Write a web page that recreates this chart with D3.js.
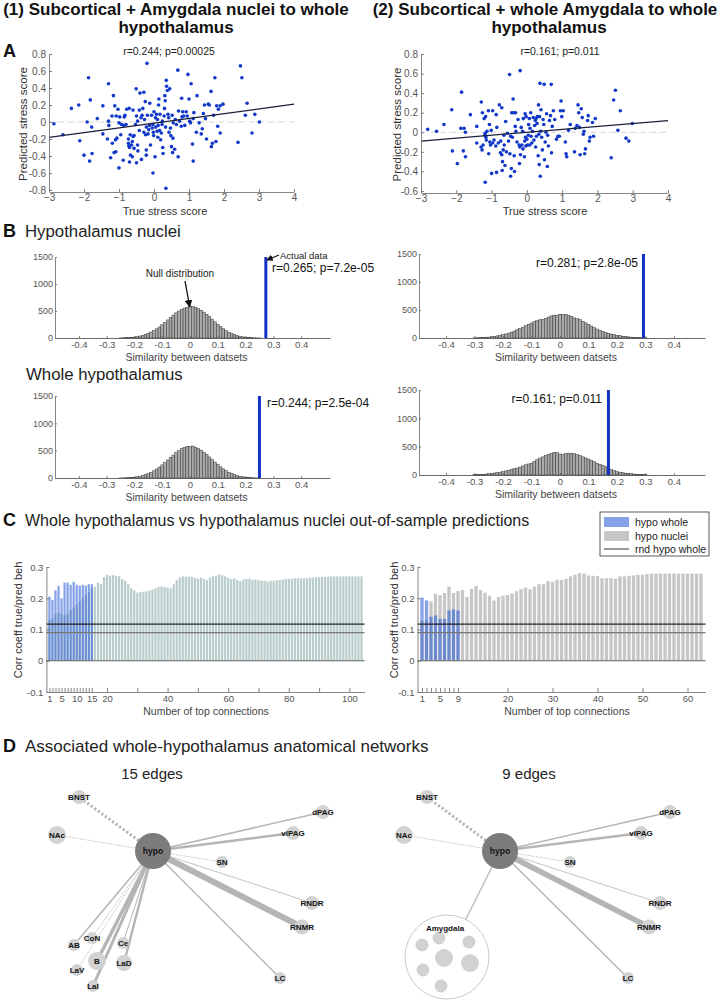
<!DOCTYPE html>
<html><head><meta charset="utf-8">
<script src="https://cdn.jsdelivr.net/npm/d3@7"></script>
<style>body{margin:0;background:#fff}</style>
</head><body><svg id="c" width="725" height="1000"></svg>
<script>
// ---------------- DATA ----------------
const scatterA1 = [[-2.86,-0.02],[-2.6,-0.15],[-2.36,0.16],[-2.15,0.2],[-2.12,-0.22],[-2.0,-0.39],[-1.91,0.0],[-1.87,0.52],[-1.82,0.26],[-1.84,-0.46],[-1.78,-0.06],[-1.77,-0.37],[-1.62,0.04],[-1.46,0.19],[-1.46,-0.14],[-1.33,-0.2],[-1.3,0.45],[-1.3,0.01],[-1.29,-0.04],[-1.24,-0.42],[-1.2,0.07],[-1.19,-0.25],[-1.16,0.31],[-1.14,-0.36],[-1.12,0.19],[-1.1,-0.21],[-1.09,-0.35],[-1.08,0.07],[-1.06,-0.19],[-1.03,0.15],[-1.0,-0.01],[-1.0,-0.54],[-0.98,0.06],[-0.95,-0.15],[-0.93,-0.03],[-0.88,-0.45],[-0.87,-0.04],[-0.85,0.06],[-0.83,0.08],[-0.8,-0.03],[-0.78,0.15],[-0.73,-0.2],[-0.73,-0.25],[-0.72,-0.28],[-0.71,0.16],[-0.7,-0.3],[-0.7,-0.47],[-0.68,-0.15],[-0.67,-0.39],[-0.64,-0.27],[-0.62,-0.41],[-0.62,-0.23],[-0.6,0.14],[-0.6,-0.17],[-0.57,-0.16],[-0.57,-0.31],[-0.53,-0.03],[-0.51,0.39],[-0.5,-0.48],[-0.5,0.07],[-0.47,-0.27],[-0.47,0.01],[-0.46,-0.34],[-0.42,0.14],[-0.42,-0.1],[-0.4,0.34],[-0.37,0.05],[-0.36,-0.44],[-0.34,0.08],[-0.32,0.16],[-0.29,0.35],[-0.29,-0.12],[-0.27,0.03],[-0.25,0.24],[-0.24,-0.15],[-0.22,-0.06],[-0.22,-0.39],[-0.22,-0.33],[-0.2,0.69],[-0.19,0.08],[-0.17,-0.14],[-0.15,-0.09],[-0.13,-0.04],[-0.12,0.22],[-0.1,-0.27],[-0.07,0.08],[-0.05,-0.07],[-0.03,-0.03],[-0.03,-0.6],[-0.02,-0.12],[-0.01,-0.16],[0.0,0.12],[0.03,-0.41],[0.04,0.05],[0.05,-0.06],[0.07,0.09],[0.09,-0.11],[0.1,0.03],[0.11,-0.18],[0.12,-0.04],[0.13,0.2],[0.14,0.27],[0.16,-0.1],[0.17,0.09],[0.19,-0.21],[0.21,-0.13],[0.23,-0.03],[0.24,0.01],[0.25,-0.3],[0.26,-0.37],[0.29,0.07],[0.3,0.16],[0.31,0.31],[0.32,0.25],[0.33,-0.06],[0.34,-0.78],[0.35,0.49],[0.36,0.42],[0.38,0.37],[0.4,0.09],[0.42,0.05],[0.43,-0.12],[0.45,0.39],[0.47,-0.07],[0.48,-0.16],[0.5,-0.29],[0.52,0.08],[0.53,-0.36],[0.54,-0.19],[0.55,-0.01],[0.59,-0.32],[0.61,0.03],[0.64,-0.03],[0.68,0.61],[0.69,-0.41],[0.7,0.13],[0.73,0.01],[0.78,-0.05],[0.79,0.28],[0.8,0.06],[0.82,0.12],[0.85,0.07],[0.88,-0.04],[0.92,0.12],[0.95,0.07],[0.97,0.56],[1.0,0.27],[1.02,0.01],[1.04,-0.01],[1.06,0.45],[1.1,-0.26],[1.12,0.04],[1.12,-0.46],[1.14,0.11],[1.21,-0.12],[1.23,0.31],[1.29,-0.01],[1.35,-0.14],[1.38,-0.08],[1.41,0.1],[1.44,0.2],[1.47,0.04],[1.5,-0.2],[1.55,0.21],[1.58,0.2],[1.63,0.36],[1.64,-0.29],[1.67,-0.25],[1.7,0.08],[1.74,0.52],[1.77,-0.23],[1.79,0.19],[1.82,-0.05],[1.84,0.15],[1.89,0.19],[1.89,-0.13],[1.97,0.21],[2.4,-0.24],[2.47,0.66],[2.51,0.52],[2.61,0.08],[2.66,0.22],[2.8,-0.13],[2.88,0.09],[3.01,0.0]];
const scatterA2 = [[-2.81,0.03],[-2.56,0.01],[-2.35,0.08],[-2.13,0.23],[-2.11,-0.19],[-1.97,-0.32],[-1.87,0.04],[-1.85,0.41],[-1.8,-0.19],[-1.78,0.04],[-1.74,0.0],[-1.74,-0.25],[-1.6,0.18],[-1.42,0.06],[-1.42,-0.11],[-1.3,-0.15],[-1.29,0.31],[-1.27,-0.18],[-1.26,0.2],[-1.24,-0.13],[-1.21,0.14],[-1.19,-0.03],[-1.18,-0.01],[-1.18,-0.51],[-1.17,0.16],[-1.16,-0.05],[-1.15,-0.08],[-1.13,0.01],[-1.09,0.22],[-1.08,-0.22],[-1.06,0.08],[-1.05,-0.1],[-1.03,-0.13],[-1.01,0.02],[-1.0,-0.42],[-0.97,0.22],[-0.97,-0.11],[-0.93,-0.08],[-0.88,-0.14],[-0.87,0.18],[-0.86,-0.41],[-0.85,0.05],[-0.81,-0.11],[-0.78,0.28],[-0.75,-0.21],[-0.74,-0.09],[-0.71,0.25],[-0.71,-0.23],[-0.7,-0.39],[-0.69,-0.3],[-0.67,-0.18],[-0.65,-0.03],[-0.64,-0.13],[-0.62,-0.34],[-0.6,0.11],[-0.58,-0.2],[-0.55,-0.01],[-0.52,-0.09],[-0.49,0.59],[-0.48,-0.22],[-0.46,-0.04],[-0.46,-0.45],[-0.44,-0.37],[-0.43,0.2],[-0.41,-0.05],[-0.39,0.34],[-0.38,0.2],[-0.36,-0.24],[-0.35,-0.4],[-0.33,0.06],[-0.32,0.2],[-0.31,0.01],[-0.28,-0.1],[-0.25,0.13],[-0.22,-0.13],[-0.21,-0.32],[-0.2,-0.15],[-0.19,0.63],[-0.18,-0.23],[-0.16,0.05],[-0.14,-0.13],[-0.12,0.01],[-0.11,-0.17],[-0.1,0.14],[-0.07,-0.25],[-0.06,-0.09],[-0.05,0.19],[-0.04,-0.05],[-0.03,-0.14],[-0.02,0.16],[0.0,-0.07],[0.02,-0.13],[0.04,-0.03],[0.05,0.08],[0.07,0.14],[0.08,-0.13],[0.09,0.04],[0.11,0.2],[0.12,-0.04],[0.14,-0.11],[0.16,0.01],[0.18,0.15],[0.2,-0.08],[0.22,0.07],[0.24,0.12],[0.25,-0.15],[0.26,0.14],[0.27,-0.04],[0.29,0.09],[0.3,0.16],[0.32,-0.24],[0.33,0.28],[0.34,-0.02],[0.35,-0.33],[0.36,0.16],[0.37,0.5],[0.38,-0.45],[0.39,0.01],[0.4,0.23],[0.42,-0.05],[0.44,-0.18],[0.46,0.13],[0.48,0.08],[0.49,0.49],[0.5,-0.28],[0.52,-0.1],[0.54,0.0],[0.56,0.19],[0.58,-0.35],[0.59,-0.03],[0.61,-0.14],[0.64,0.12],[0.67,0.17],[0.69,0.49],[0.7,-0.21],[0.72,0.06],[0.75,0.22],[0.79,0.13],[0.84,-0.07],[0.88,-0.04],[0.92,-0.04],[0.95,0.22],[0.97,0.32],[0.99,0.16],[1.03,0.22],[1.09,-0.1],[1.11,-0.22],[1.13,-0.25],[1.18,0.02],[1.23,0.08],[1.35,-0.2],[1.37,0.04],[1.42,0.07],[1.45,0.28],[1.47,0.2],[1.49,0.05],[1.51,-0.23],[1.54,0.24],[1.57,0.15],[1.6,-0.02],[1.62,0.01],[1.64,-0.22],[1.66,-0.17],[1.72,0.12],[1.74,0.17],[1.77,-0.09],[1.79,-0.05],[1.86,0.1],[1.89,-0.04],[1.94,0.14],[2.39,-0.26],[2.46,0.33],[2.51,0.43],[2.58,0.02],[2.65,0.22],[2.81,-0.06],[2.89,-0.09],[2.99,0.09]];
const fitA1 = [[-3,-0.18],[4,0.21]];
const fitA2 = [[-3,-0.09],[4,0.12]];
const statA1 = "r=0.244; p=0.00025";
const statA2 = "r=0.161; p=0.011";
const xTicksA = [-3,-2,-1,0,1,2,3,4];
const yTicksA1 = [-0.8,-0.6,-0.4,-0.2,0,0.2,0.4,0.6,0.8];
const yTicksA2 = [-0.6,-0.4,-0.2,0,0.2,0.4,0.6,0.8];

const histBinWidth = 0.01;
const histB1Start = -0.255; // nuclei, set 1
const histB1 = [2,3,5,8,12,18,26,36,50,66,86,110,138,170,205,245,290,335,380,425,465,500,530,555,570,590,580,565,545,515,480,440,395,350,300,255,212,172,138,108,82,62,45,32,22,15,10,6,4,2,1];
const histB2Start = -0.255; // whole, set 1
const histB2 = [1,2,4,6,10,15,22,32,45,60,80,104,132,165,200,240,285,330,378,420,462,500,535,560,580,575,585,560,540,510,470,430,385,340,292,248,205,168,134,104,80,60,44,31,21,14,9,6,3,2,1];
const histB3Start = -0.305; // nuclei, set 2
const histB3 = [3,4,6,8,12,16,22,30,38,48,60,72,88,105,125,148,170,195,220,245,268,290,310,325,335,350,375,395,410,405,425,415,420,405,385,360,345,330,300,270,245,215,185,160,135,115,98,82,70,58,48,40,32,26,20,15,11,8,6,4,3];
const histB4Start = -0.305; // whole, set 2
const histB4 = [4,6,8,11,15,22,28,35,42,50,60,72,85,98,110,122,140,160,180,195,210,240,270,300,320,345,365,385,400,395,370,360,375,385,380,375,360,345,320,300,282,260,235,210,190,170,145,120,100,80,62,50,40,32,26,22,17,13,9,6,4];
const actualB = [0.273, 0.25, 0.293, 0.17];
const actualCount = 1500;
const statB = ["r=0.265; p=7.2e-05","r=0.244; p=2.5e-04","r=0.281; p=2.8e-05","r=0.161; p=0.011"];
const xTicksB = [-0.4,-0.3,-0.2,-0.1,0,0.1,0.2,0.3,0.4];
const yTicksB = [0,500,1000,1500];

const barsC1Whole = [0.205,0.195,0.225,0.24,0.2,0.25,0.25,0.243,0.253,0.243,0.24,0.243,0.24,0.245,0.245];
const barsC1Nuclei = [0.13,0.135,0.15,0.155,0.15,0.145,0.15,0.16,0.17,0.18,0.19,0.2,0.21,0.22,0.23,
 0.237,0.25,0.245,0.268,0.275,0.272,0.274,0.272,0.27,0.262,0.256,0.245,0.232,0.225,0.218,
 0.22,0.221,0.222,0.225,0.228,0.232,0.236,0.238,0.236,0.234,0.232,0.245,0.258,0.266,0.27,
 0.269,0.269,0.268,0.265,0.262,0.266,0.262,0.258,0.266,0.27,0.272,0.276,0.274,0.27,0.265,
 0.262,0.264,0.258,0.255,0.26,0.262,0.262,0.258,0.26,0.258,0.256,0.256,0.254,0.256,0.256,
 0.258,0.258,0.26,0.262,0.262,0.262,0.264,0.264,0.264,0.264,0.264,0.266,0.266,0.267,0.268,
 0.268,0.268,0.269,0.27,0.27,0.27,0.27,0.27,0.27,0.27,0.27,0.27,0.27,0.27];
const barsC2Whole = [0.202,0.193,0.141,0.145,0.134,0.134,0.161,0.164,0.161];
const barsC2Nuclei = [0.128,0.13,0.19,0.214,0.21,0.217,0.237,0.217,0.223,0.226,0.204,0.23,0.239,0.226,0.218,
 0.208,0.193,0.204,0.208,0.21,0.215,0.222,0.229,0.234,0.229,0.237,0.245,0.245,0.255,0.253,
 0.259,0.259,0.262,0.27,0.275,0.28,0.279,0.273,0.272,0.271,0.264,0.264,0.264,0.262,0.27,
 0.27,0.272,0.273,0.275,0.275,0.277,0.279,0.279,0.279,0.279,0.279,0.279,0.279,0.279,0.279,
 0.279,0.279,0.279];
const refLinesC = [0.117, 0.09];
const yTicksC = [-0.1,0,0.1,0.2,0.3];
const xLabelsC1 = [1,5,10,15,20,40,60,80,100];
const xLabelsC2 = [1,5,9,20,30,40,50,60];
const legendC = ["hypo whole","hypo nuclei","rnd hypo whole"];

// network edges: [target, weight, style]
const edgesD1 = [["BNST",3,"dash"],["NAc",1,"dot"],["dPAG",1.5,"solid"],["vlPAG",2.6,"solid"],["SN",1,"dot"],["RNDR",0.8,"solid"],["RNMR",6,"solid"],["LC",1.5,"solid"],["AB",1.5,"solid"],["CoN",1,"dot"],["LaV",1,"dot"],["B",3.5,"solid"],["LaI",3,"solid"],["LaD",2.4,"solid"],["Ce",1,"solid"]];
const edgesD2 = [["BNST",3,"dash"],["NAc",1,"dot"],["dPAG",1.5,"solid"],["vlPAG",2.6,"solid"],["SN",1,"dot"],["RNDR",0.8,"solid"],["RNMR",5.5,"solid"],["LC",1.5,"solid"],["Amygdala",1.2,"solid"]];

// ---------------- LAYOUT ----------------
const FONT = '"Liberation Sans", Arial, Helvetica, sans-serif';
const svg = d3.select("#c").attr("font-family", FONT);
const fmt1 = v => String(+v.toFixed(1));

function txt(x, y, s, size, opts = {}) {
  const t = svg.append("text").attr("x", x).attr("y", y).text(s)
    .attr("font-size", size).attr("fill", opts.fill || "#111")
    .attr("text-anchor", opts.anchor || "start")
    .attr("font-weight", opts.bold ? "bold" : "normal");
  if (opts.rotate) t.attr("transform", `rotate(-90,${x},${y})`);
  return t;
}
function styleAxis(g, fs) {
  g.attr("font-family", FONT).attr("font-size", fs);
  g.select(".domain").attr("stroke", "#666").attr("stroke-width", 0.8);
  g.selectAll(".tick line").attr("stroke", "#666").attr("stroke-width", 0.8);
  g.selectAll(".tick text").attr("fill", "#555");
}

// ---- Titles
txt(176, 15, "(1) Subcortical + Amygdala nuclei to whole", 17, {bold:true, anchor:"middle"});
txt(176, 33, "hypothalamus", 17, {bold:true, anchor:"middle"});
txt(545, 15, "(2) Subcortical + whole Amygdala to whole", 17, {bold:true, anchor:"middle"});
txt(549, 33, "hypothalamus", 17, {bold:true, anchor:"middle"});
txt(3, 57, "A", 18, {bold:true});

// ---- Panel A scatter
function scatter(pts, fit, xr, yDom, yr, yTicks, stat, statX, ylabX, xlabX) {
  const x = d3.scaleLinear([-3, 4], xr);
  const y = d3.scaleLinear(yDom, yr);
  const g = svg.append("g");
  g.append("line").attr("x1", x(-3)).attr("x2", x(4)).attr("y1", y(0)).attr("y2", y(0))
    .attr("stroke", "#c8c8c8").attr("stroke-width", 0.8).attr("stroke-dasharray", "5,2,1,2");
  g.selectAll("circle").data(pts).join("circle")
    .attr("cx", d => x(d[0])).attr("cy", d => y(d[1])).attr("r", 1.8).attr("fill", "#1238c9");
  g.append("line").attr("x1", x(fit[0][0])).attr("y1", y(fit[0][1]))
    .attr("x2", x(fit[1][0])).attr("y2", y(fit[1][1]))
    .attr("stroke", "#1a1f3a").attr("stroke-width", 1.2);
  const ay = svg.append("g").attr("transform", `translate(${xr[0]},0)`)
    .call(d3.axisLeft(y).tickValues(yTicks).tickSize(-3).tickSizeOuter(0).tickPadding(3).tickFormat(fmt1));
  styleAxis(ay, 10);
  const ax = svg.append("g").attr("transform", `translate(0,${yr[0] + 2})`)
    .call(d3.axisBottom(x).tickValues(xTicksA).tickSize(-3).tickSizeOuter(0).tickPadding(2).tickFormat(d3.format("d")));
  styleAxis(ax, 10);
  txt(statX, 55, stat, 10.5, {anchor:"middle", fill:"#222"});
  txt(ylabX, (yr[0] + yr[1]) / 2 + 2, "Predicted stress score", 11.5, {anchor:"middle", rotate:true, fill:"#333"});
  txt(xlabX, 215, "True stress score", 11, {anchor:"middle", fill:"#333"});
}
scatter(scatterA1, fitA1, [49, 294], [-0.8, 0.8], [190, 54], yTicksA1, statA1, 169, 27, 165);
scatter(scatterA2, fitA2, [421, 668], [-0.6, 0.8], [191, 54], yTicksA2, statA2, 560, 401, 545);

// ---- Panel B
txt(3, 237, "B", 18, {bold:true});
txt(25, 237, "Hypothalamus nuclei", 16.8, {fill:"#222"});
txt(26, 380, "Whole hypothalamus", 16.8, {fill:"#222"});

function hist(counts, start, xDom, xr, y0, y1500, actual, stat, statPos) {
  const x = d3.scaleLinear(xDom, xr);
  const y = d3.scaleLinear([0, 1500], [y0, y1500]);
  const g = svg.append("g");
  g.selectAll("rect").data(counts).join("rect")
    .attr("x", (d, i) => x(start + i * histBinWidth))
    .attr("width", x(histBinWidth) - x(0))
    .attr("y", d => y(d)).attr("height", d => y0 - y(d))
    .attr("fill", "#a9a9a9").attr("stroke", "#2a2a2a").attr("stroke-width", 0.45);
  const ax = svg.append("g").attr("transform", `translate(0,${y0})`)
    .call(d3.axisBottom(x).tickValues(xTicksB).tickSize(-2).tickSizeOuter(0).tickPadding(3).tickFormat(fmt1));
  styleAxis(ax, 9.5);
  ax.select(".domain").attr("stroke", "#444");
  const ay = svg.append("g").attr("transform", `translate(${xr[0]},0)`)
    .call(d3.axisLeft(y).tickValues(yTicksB).tickSize(-2).tickSizeOuter(0).tickPadding(2).tickFormat(d3.format("d")));
  styleAxis(ay, 9);
  g.append("rect").attr("x", x(actual) - 1.5).attr("width", 3)
    .attr("y", y(actualCount)).attr("height", y0 - y(actualCount)).attr("fill", "#1431c4");
  txt((xr[0] + xr[1]) / 2 - 6, y0 + 23, "Similarity between datsets", 10.5, {anchor:"middle", fill:"#444"});
  txt(statPos[0], statPos[1], stat, 12, {anchor: statPos[2], fill:"#111"});
  return {x, y};
}
const h1 = hist(histB1, histB1Start, [-0.486, 0.504], [55, 330], 338, 257, actualB[0], statB[0], [272, 272, "start"]);
hist(histB2, histB2Start, [-0.486, 0.504], [55, 330], 478, 396, actualB[1], statB[1], [267, 407, "start"]);
hist(histB3, histB3Start, [-0.495, 0.509], [419, 705], 338, 254, actualB[2], statB[2], [638, 267, "end"]);
hist(histB4, histB4Start, [-0.495, 0.509], [419, 705], 475, 390, actualB[3], statB[3], [602, 403, "end"]);

// annotations
svg.append("defs").append("marker").attr("id", "arr").attr("viewBox", "0 0 10 10")
  .attr("refX", 9).attr("refY", 5).attr("markerWidth", 6).attr("markerHeight", 6).attr("orient", "auto")
  .append("path").attr("d", "M0,0 L10,5 L0,10 z").attr("fill", "#111");
txt(180, 277, "Null distribution", 10, {anchor:"middle", fill:"#222"});
svg.append("line").attr("x1", h1.x(-0.018)).attr("y1", 281).attr("x2", h1.x(-0.001)).attr("y2", 307)
  .attr("stroke", "#111").attr("stroke-width", 1.3).attr("marker-end", "url(#arr)");
txt(280, 259, "Actual data", 9.5, {fill:"#222"});
svg.append("line").attr("x1", 279).attr("y1", 255).attr("x2", h1.x(actualB[0]) + 1).attr("y2", 260)
  .attr("stroke", "#111").attr("stroke-width", 1.1).attr("marker-end", "url(#arr)");

// ---- Panel C
txt(3, 526, "C", 18, {bold:true});
txt(25, 526, "Whole hypothalamus vs hypothalamus nuclei out-of-sample predictions", 16, {fill:"#222"});

function barsC(whole, nuclei, n, xr, nucColor, labels, minorMax, majors, ylabX, xlabX) {
  const x = d3.scaleLinear([0, n + 1], xr);
  const y = d3.scaleLinear([-0.1, 0.3], [692, 567]);
  const step = x(1) - x(0), bw = step * 0.74;
  const g = svg.append("g");
  g.selectAll("rect.n").data(nuclei).join("rect").attr("class", "n")
    .attr("x", (d, i) => x(i + 1) - bw / 2).attr("width", bw)
    .attr("y", d => y(d)).attr("height", d => y(0) - y(d)).attr("fill", nucColor);
  g.selectAll("rect.w").data(whole).join("rect").attr("class", "w")
    .attr("x", (d, i) => x(i + 1) - bw / 2).attr("width", bw)
    .attr("y", d => y(d)).attr("height", d => y(0) - y(d)).attr("fill", "#2d5fd6").attr("fill-opacity", 0.58);
  g.append("line").attr("x1", x(0)).attr("x2", x(n + 1)).attr("y1", y(0)).attr("y2", y(0))
    .attr("stroke", "#666").attr("stroke-width", 1);
  g.append("line").attr("x1", x(0)).attr("x2", x(n + 1)).attr("y1", y(refLinesC[0])).attr("y2", y(refLinesC[0]))
    .attr("stroke", "#222").attr("stroke-width", 1.2);
  g.append("line").attr("x1", x(0)).attr("x2", x(n + 1)).attr("y1", y(refLinesC[1])).attr("y2", y(refLinesC[1]))
    .attr("stroke", "#777").attr("stroke-width", 1.2);
  const tv = d3.range(1, minorMax + 1).concat(majors);
  const ax = svg.append("g").attr("transform", `translate(0,692)`)
    .call(d3.axisBottom(x).tickValues(tv).tickSize(-4).tickSizeOuter(0).tickPadding(3)
      .tickFormat(d => labels.includes(d) ? d : ""));
  styleAxis(ax, 9.5);
  const ay = svg.append("g").attr("transform", `translate(${xr[0]},0)`)
    .call(d3.axisLeft(y).tickValues(yTicksC).tickSize(-3).tickSizeOuter(0).tickPadding(3).tickFormat(fmt1));
  styleAxis(ay, 9.5);
  txt(xlabX, 715, "Number of top connections", 10.5, {anchor:"middle", fill:"#444"});
  txt(ylabX, 620, "Corr coeff true/pred beh", 11, {anchor:"middle", rotate:true, fill:"#333"});
}
barsC(barsC1Whole, barsC1Nuclei, barsC1Nuclei.length, [46.4, 46.4 + 3.03 * (barsC1Nuclei.length + 1)], "#bacdcd",
  xLabelsC1, 15, [20,30,40,50,60,70,80,90,100], 22, 206);
barsC(barsC2Whole, barsC2Nuclei, barsC2Nuclei.length, [417.5, 417.5 + 4.5 * (barsC2Nuclei.length + 1)], "#c6c6c6",
  xLabelsC2, 9, [20,30,40,50,60], 398, 567);

// legend
const lg = svg.append("g");
lg.append("rect").attr("x", 600).attr("y", 512).attr("width", 109).attr("height", 44)
  .attr("fill", "#fff").attr("stroke", "#333").attr("stroke-width", 0.8);
lg.append("rect").attr("x", 604).attr("y", 517).attr("width", 25).attr("height", 10).attr("fill", "#2d5fd6").attr("fill-opacity", 0.58);
lg.append("rect").attr("x", 604).attr("y", 531).attr("width", 25).attr("height", 10).attr("fill", "#c6c6c6");
lg.append("line").attr("x1", 604).attr("x2", 629).attr("y1", 549).attr("y2", 549).attr("stroke", "#777").attr("stroke-width", 1.5);
legendC.forEach((s, i) => txt(635, 526 + i * 13.5, s, 10.5, {fill:"#222"}));

// ---- Panel D
txt(3, 752, "D", 18, {bold:true});
txt(25, 752, "Associated whole-hypothalamus anatomical networks", 17, {fill:"#222"});
txt(152, 779, "15 edges", 15, {anchor:"middle", fill:"#222"});
txt(529, 779, "9 edges", 15, {anchor:"middle", fill:"#222"});

const layoutD1 = {hypo:[153,851,18], BNST:[79,797,7], NAc:[57,835,9], dPAG:[323,812,7], vlPAG:[293,833,7],
  SN:[222,862,6], RNDR:[312,903,7], RNMR:[302,927,7.5], LC:[280,978,6], AB:[74,945,6], CoN:[92,938,6],
  Ce:[123,943,6], B:[97,961,9], LaD:[124,963,8], LaV:[77,970,6], LaI:[93,986,6]};
const layoutD2 = {hypo:[500,851,18], BNST:[427,797,7], NAc:[404,835,9], dPAG:[670,812,7], vlPAG:[641,833,7],
  SN:[570,862,6], RNDR:[660,903,7], RNMR:[649,927,7.5], LC:[628,978,6], Amygdala:[447,957,42]};
const amygInner = [[422,945,6.5],[439,938,6.5],[469,942,6.5],[444,958,9],[470,963,9],[423,970,6.5],[441,986,6.5]];

function network(layout, edges, amyg) {
  const g = svg.append("g");
  const h = layout.hypo;
  g.selectAll("line").data(edges).join("line")
    .attr("x1", h[0]).attr("y1", h[1])
    .attr("x2", d => layout[d[0]][0]).attr("y2", d => layout[d[0]][1])
    .attr("stroke", "#b5b5b5").attr("stroke-width", d => d[1])
    .attr("stroke-dasharray", d => d[2] === "dash" ? "2.2,2.2" : d[2] === "dot" ? "1.2,1.4" : null);
  Object.entries(layout).forEach(([id, p]) => {
    if (id === "Amygdala") {
      g.append("circle").attr("cx", p[0]).attr("cy", p[1]).attr("r", p[2])
        .attr("fill", "#fff").attr("stroke", "#bbb").attr("stroke-width", 0.8);
      amyg.forEach(c => g.append("circle").attr("cx", c[0]).attr("cy", c[1]).attr("r", c[2]).attr("fill", "#d2d2d2"));
      g.append("text").attr("x", p[0] - 2).attr("y", 931).attr("text-anchor", "middle")
        .attr("font-size", 8).attr("font-weight", "bold").attr("fill", "#111").text("Amygdala");
      return;
    }
    g.append("circle").attr("cx", p[0]).attr("cy", p[1]).attr("r", p[2])
      .attr("fill", id === "hypo" ? "#7c7c7c" : "#d2d2d2");
    g.append("text").attr("x", p[0]).attr("y", p[1] + 3).attr("text-anchor", "middle")
      .attr("font-size", id === "hypo" ? 8.5 : 8).attr("font-weight", "bold").attr("fill", "#111").text(id);
  });
}
network(layoutD1, edgesD1, []);
network(layoutD2, edgesD2, amygInner);
</script></body></html>
